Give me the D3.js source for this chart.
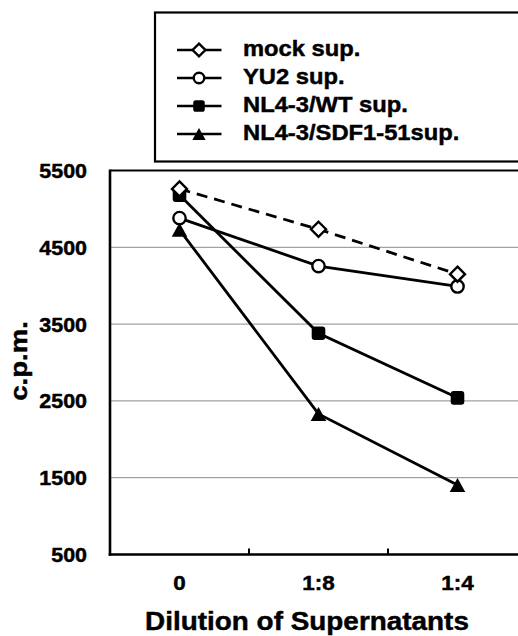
<!DOCTYPE html>
<html><head><meta charset="utf-8">
<script src="https://cdn.jsdelivr.net/npm/d3@7"></script>
<style>
html,body{margin:0;padding:0;background:#fff;}
svg{display:block;font-family:"Liberation Sans",Arial,sans-serif;font-weight:bold;}
svg text{stroke:#000;stroke-width:0.45px;}
</style></head>
<body>
<svg id="chart" width="518" height="636"></svg>
<script>
const categories = ["0", "1:8", "1:4"];
const seriesNames = ["mock sup.", "YU2 sup.", "NL4-3/WT sup.", "NL4-3/SDF1-51sup."];
const mockValues = [5260, 4735, 4150];
const yu2Values = [4880, 4255, 3990];
const wtValues = [5180, 3380, 2540];
const sdfValues = [4728, 2330, 1405];
const yTickLabels = [500, 1500, 2500, 3500, 4500, 5500];
const gridValues = [1500, 2500, 3500, 4500];
const xTitle = "Dilution of Supernatants";
const yTitle = "c.p.m.";

(function () {
const svg = d3.select("#chart");
const pLeft = 110, pRight = 527, pTop = 170.5, pBottom = 554.5;

const x = d3.scaleBand().domain(categories).range([pLeft, pRight]);
const y = d3.scaleLinear().domain([500, 5500]).range([pBottom, pTop]);

// gridlines
svg.append("g").selectAll("line").data(gridValues).join("line")
  .attr("x1", pLeft).attr("x2", 540)
  .attr("y1", d => y(d)).attr("y2", d => y(d))
  .attr("stroke", "#8a8a8a").attr("stroke-width", 1);

// frame
svg.append("line").attr("x1", pLeft).attr("x2", 540).attr("y1", pTop).attr("y2", pTop)
  .attr("stroke", "#000").attr("stroke-width", 2);
svg.append("line").attr("x1", pLeft).attr("x2", pLeft).attr("y1", pTop - 1).attr("y2", pBottom + 1.2)
  .attr("stroke", "#000").attr("stroke-width", 2.6);
svg.append("line").attr("x1", pLeft - 1.3).attr("x2", 540).attr("y1", pBottom).attr("y2", pBottom)
  .attr("stroke", "#000").attr("stroke-width", 2.6);

// x tick marks at band boundaries (inside)
svg.append("g").selectAll("line").data(categories.slice(0, 2)).join("line")
  .attr("x1", d => x(d) + x.bandwidth()).attr("x2", d => x(d) + x.bandwidth())
  .attr("y1", pBottom).attr("y2", pBottom - 6)
  .attr("stroke", "#000").attr("stroke-width", 2);

// y axis labels
const yAxis = svg.append("g").attr("transform", "translate(87,0)")
  .call(d3.axisLeft(y).tickValues(yTickLabels).tickSize(0).tickPadding(0).tickFormat(d3.format("d")));
yAxis.select(".domain").remove();
yAxis.selectAll("text").attr("font-size", 19.5).attr("font-family", "Liberation Sans, Arial, sans-serif")
  .attr("font-weight", "bold").attr("fill", "#000").attr("x", 0).attr("dy", "0.36em")
  .attr("transform", "scale(1.1,1)");

// x axis labels
const xAxis = svg.append("g").attr("transform", `translate(0,${pBottom})`)
  .call(d3.axisBottom(x).tickSize(0).tickPadding(22));
xAxis.select(".domain").remove();
xAxis.selectAll("text").attr("font-size", 19.5).attr("font-family", "Liberation Sans, Arial, sans-serif")
  .attr("font-weight", "bold").attr("fill", "#000")
  .attr("transform", "scale(1.15,1)");

// titles
svg.append("text").attr("transform", "translate(307,630) scale(1.09,1)")
  .attr("text-anchor", "middle").attr("font-size", 25.6).attr("fill", "#000").text(xTitle);
svg.append("text").attr("transform", "translate(27,361) rotate(-90) scale(1.2,1)")
  .attr("text-anchor", "middle").attr("font-size", 23).attr("fill", "#000").text(yTitle);

// series
const series = [
  { name: seriesNames[0], values: mockValues, dash: "11,7", marker: "diamond" },
  { name: seriesNames[1], values: yu2Values, dash: null, marker: "circle" },
  { name: seriesNames[2], values: wtValues, dash: null, marker: "square" },
  { name: seriesNames[3], values: sdfValues, dash: null, marker: "triangle" }
];

const cx = c => x(c) + x.bandwidth() / 2;
const line = d3.line().x(d => cx(d.c)).y(d => y(d.v));

function drawMarker(g, type, px, py, s) {
  if (type === "diamond") {
    g.append("path").attr("d", `M${px},${py - 7.5 * s}L${px + 7.5 * s},${py}L${px},${py + 7.5 * s}L${px - 7.5 * s},${py}Z`)
      .attr("fill", "#fff").attr("stroke", "#000").attr("stroke-width", 2.4);
  } else if (type === "circle") {
    g.append("circle").attr("cx", px).attr("cy", py).attr("r", 6.2 * s)
      .attr("fill", "#fff").attr("stroke", "#000").attr("stroke-width", 2.4);
  } else if (type === "square") {
    const h = 6.8 * s;
    g.append("rect").attr("x", px - h).attr("y", py - h).attr("width", 2 * h).attr("height", 2 * h)
      .attr("rx", 3 * s).attr("fill", "#000");
  } else {
    const w = 7.8 * s, hh = 7 * s;
    g.append("path").attr("d", `M${px},${py - hh}L${px + w},${py + hh}L${px - w},${py + hh}Z`).attr("fill", "#000");
  }
}

const plot = svg.append("g");
series.slice().reverse().forEach(s => {
  const pts = s.values.map((v, i) => ({ c: categories[i], v }));
  plot.append("path").attr("d", line(pts)).attr("fill", "none").attr("stroke", "#000")
    .attr("stroke-width", 2.8).attr("stroke-dasharray", s.dash);
});
series.slice().reverse().forEach(s => {
  s.values.forEach((v, i) => drawMarker(plot, s.marker, cx(categories[i]), y(v), 1));
});

// legend
const lg = svg.append("g");
lg.append("rect").attr("x", 155).attr("y", 12.5).attr("width", 400).attr("height", 149)
  .attr("fill", "#fff").attr("stroke", "#000").attr("stroke-width", 2.2);
series.forEach((s, i) => {
  const base = 56 + i * 28;
  const ly = base - 6;
  lg.append("line").attr("x1", 177).attr("x2", 221.5).attr("y1", ly).attr("y2", ly)
    .attr("stroke", "#000").attr("stroke-width", 2.6);
  drawMarker(lg, s.marker, 199, ly, 0.85);
  lg.append("text").attr("transform", `translate(243,${base}) scale(1.08,1)`)
    .attr("font-size", 22).attr("fill", "#000").text(s.name);
});
})();
</script>
</body></html>
